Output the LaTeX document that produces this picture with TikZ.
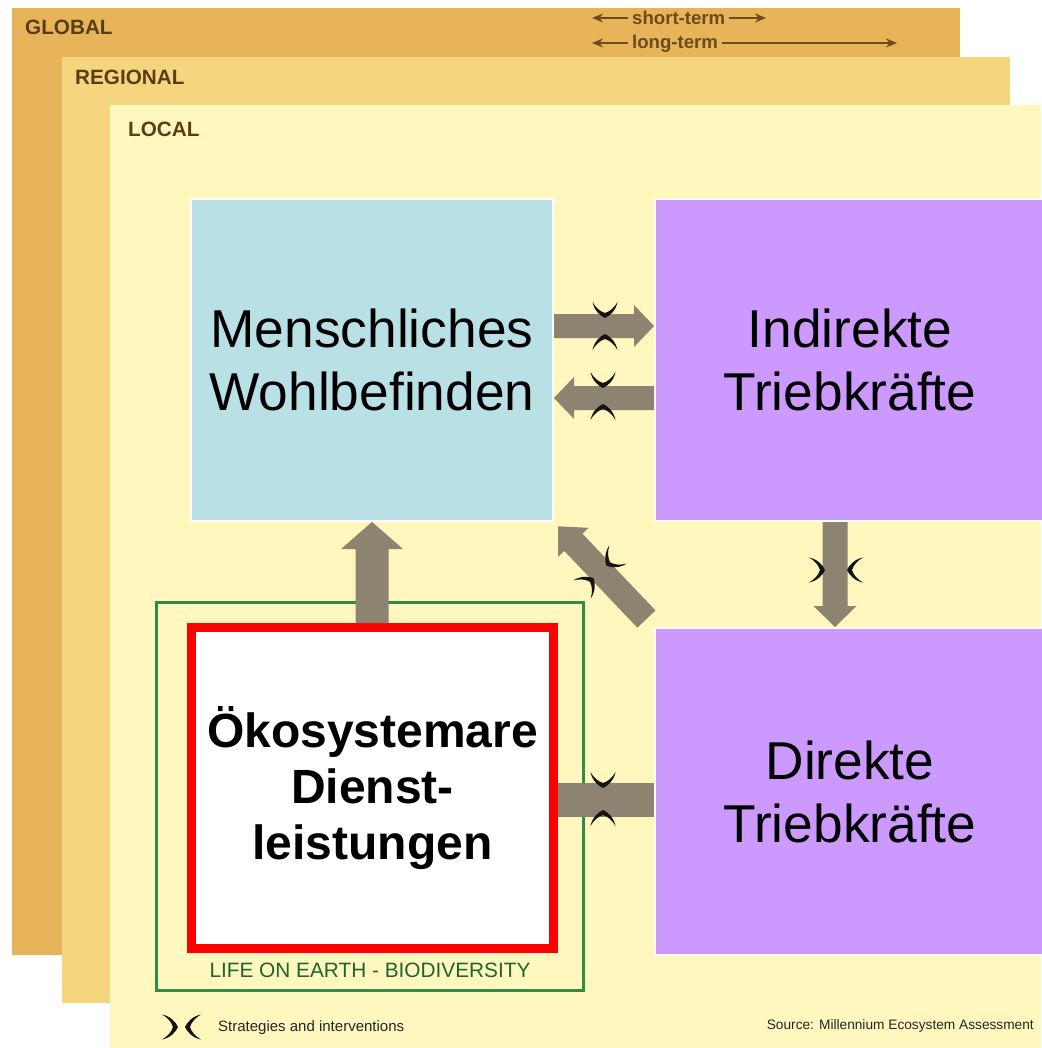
\documentclass[tikz,border=0pt]{standalone}
\usepackage{fontspec}
\setmainfont{Liberation Sans}
\usetikzlibrary{arrows.meta,calc}
\definecolor{globalc}{HTML}{E7B45A}
\definecolor{regionalc}{HTML}{F5D57E}
\definecolor{localc}{HTML}{FFF7BE}
\definecolor{bluec}{HTML}{B9E1E5}
\definecolor{purplec}{HTML}{CC99FF}
\definecolor{arrowc}{HTML}{8C8371}
\definecolor{greenc}{HTML}{2F8B48}
\definecolor{greentext}{HTML}{1E6430}
\definecolor{brownc}{HTML}{5A3D17}
\definecolor{arrbrown}{HTML}{6E4A1C}
\definecolor{symc}{HTML}{141414}
\newcommand\fatarrow[5]{%
  \coordinate (fab) at ($(#2)!#5!(#1)$);
  \fill[arrowc] ($(#1)!#3!90:(#2)$) -- ($(fab)!#3!90:(#2)$) -- ($(fab)!#4!90:(#2)$) -- (#2)
    -- ($(fab)!#4!-90:(#2)$) -- ($(fab)!#3!-90:(#2)$) -- ($(#1)!#3!-90:(#2)$) -- cycle;}
\newcommand\halfsympath{(-16,12.5) .. controls (-8,11) and (-2,5) .. (0,0)
     .. controls (-2,-5) and (-8,-11) .. (-16,-12.5)
     .. controls (-10.5,-9.5) and (-6.5,-5) .. (-5,0)
     .. controls (-6.5,5) and (-10.5,9.5) .. (-16,12.5) -- cycle}
\begin{document}
\begin{tikzpicture}[x=1pt,y=-1pt,
  lay/.style={font=\bfseries\fontsize{20.7}{24}\selectfont, text=brownc, anchor=base west, inner sep=0pt},
  topl/.style={font=\bfseries\fontsize{18.6}{22}\selectfont, text=arrbrown, anchor=base west, inner sep=4pt},
  toparr/.style={draw=arrbrown, line width=2.2pt, -{Stealth[length=11pt,width=9pt]}},
  bigbox/.style={rectangle, inner sep=0pt, draw=white, line width=2pt, align=center,
    font=\fontsize{53.3}{63}\selectfont},
  strat/.pic={\fill[symc, shift={(-#1,0)}] \halfsympath;
              \fill[symc, shift={(#1,0)}, xscale=-1] \halfsympath;}
]
\useasboundingbox[fill=white] (0,0) rectangle (1041,1048);
% layers
\fill[globalc] (12,8) rectangle (960,955);
\fill[regionalc] (62,57) rectangle (1010,1003);
\fill[localc] (110,105) rectangle (1041,1048);
\node[lay] (lg) at (25,35) {GLOBAL};
\node[lay] (lr) at (75,85) {REGIONAL};
\node[lay] (ll) at (128,136.5) {LOCAL};
% time arrows
\node[topl] (st) at (628,24.5) {short-term};
\node[topl] (lt) at (628,48.5) {long-term};
\coordinate (stL) at (592,18);
\coordinate (stR) at (766,18);
\coordinate (ltL) at (592,43);
\coordinate (ltR) at (897,43);
\draw[toparr] (st.west |- stL) -- (stL);
\draw[toparr] (st.east |- stR) -- (stR);
\draw[toparr] (lt.west |- ltL) -- (ltL);
\draw[toparr] (lt.east |- ltR) -- (ltR);
% green frame
\node[draw=greenc, line width=3pt, minimum width=427pt, minimum height=388pt, inner sep=0pt] (life) at (369.5,796) {};
\node[font=\fontsize{20.8}{24}\selectfont, text=greentext, anchor=base, inner sep=0pt] (lifet) at (370,977) {LIFE ON EARTH - BIODIVERSITY};
% boxes
\node[bigbox, fill=bluec, minimum width=362pt, minimum height=322pt] (mw) at (372,360) {Menschliches\\Wohlbefinden};
\node[bigbox, fill=purplec, minimum width=390pt, minimum height=322pt] (ind) at (850,360) {Indirekte\\Triebkräfte};
\node[bigbox, fill=purplec, minimum width=390pt, minimum height=327pt] (dir) at (850,791.5) {Direkte\\Triebkräfte};
% connectors
\coordinate (h1) at (0,326);
\coordinate (h2) at (0,398);
\coordinate (h5) at (0,800);
\coordinate (v3) at (835,0);
\coordinate (v4) at (372,0);
\coordinate (a1s) at (mw.east |- h1);
\coordinate (a1e) at (ind.west |- h1);
\coordinate (a2s) at (ind.west |- h2);
\coordinate (a2e) at (mw.east |- h2);
\coordinate (a3s) at (v3 |- ind.south);
\coordinate (a3e) at (v3 |- dir.north);
\coordinate (a5s) at ($(dir.north west)!11pt!(mw.south east)$);
\coordinate (a5e) at ($(mw.south east)!6pt!(dir.north west)$);
\fatarrow{a1s}{a1e}{12pt}{21pt}{20pt}
\fatarrow{a2s}{a2e}{12pt}{21pt}{20pt}
\fatarrow{a3s}{a3e}{12.5pt}{21.5pt}{21pt}
\fatarrow{a5s}{a5e}{12.5pt}{21pt}{22pt}
% ecosystem services box
\node[rectangle, draw=red, fill=white, line width=9pt, minimum width=362pt, minimum height=321pt,
  inner sep=0pt, align=center, font=\bfseries\fontsize{48}{56}\selectfont] (eco) at (372.5,788)
  {Ökosystemare\\Dienst-\\leistungen};
\coordinate (a4s) at (v4 |- eco.north);
\coordinate (a4e) at (v4 |- mw.south);
\fatarrow{a4s}{a4e}{16.5pt}{31pt}{27pt}
\draw[arrowc, line width=34pt] (dir.west |- h5) -- (eco.east |- h5);
% strategy symbols
\pic[rotate=90] at (605,326) {strat=8};
\pic[rotate=90] at (603,396) {strat=8};
\pic at (836,570) {strat=11};
\pic[rotate=44] at (600,572) {strat=9};
\pic[rotate=90] at (603,799) {strat=11};
% legend
\pic at (181.5,1027) {strat=3.5};
\node[font=\fontsize{15}{18}\selectfont, text=black!85, anchor=base west, inner sep=0pt] (leg) at (218,1031.5) {Strategies and interventions};
\node[font=\fontsize{13.7}{16}\selectfont, text=black!85, anchor=base east, inner sep=0pt] (src) at (1034,1029) {Source: Millennium Ecosystem Assessment};
\end{tikzpicture}
\end{document}
